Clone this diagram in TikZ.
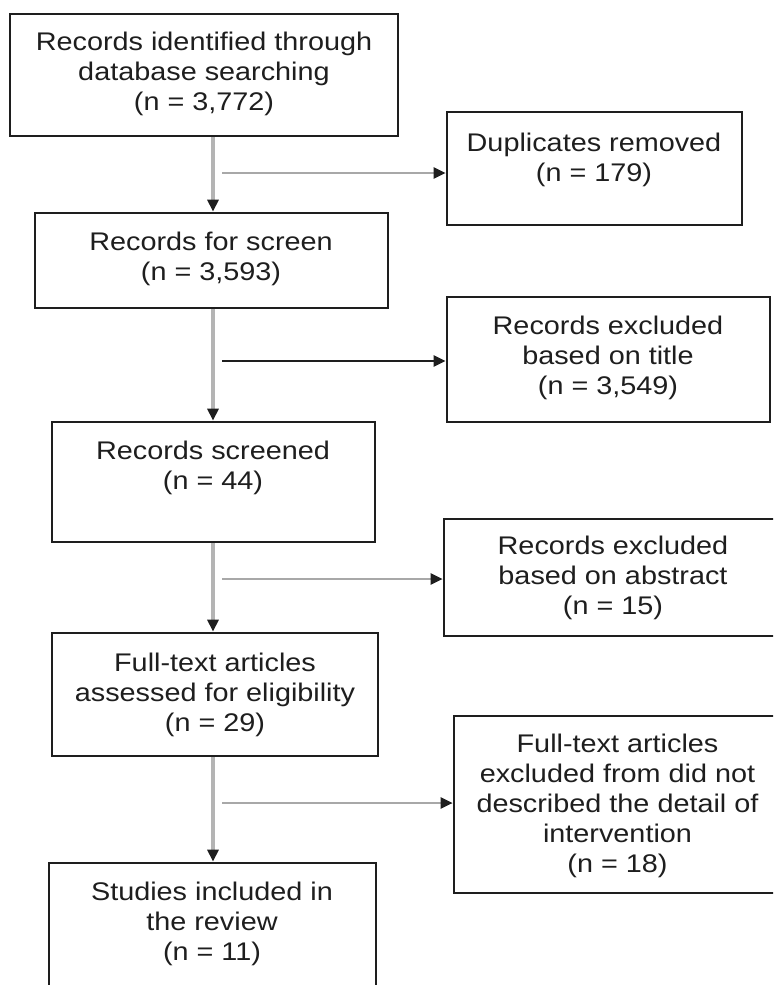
\documentclass[tikz,border=0pt]{standalone}
\usepackage{fontspec}
\setmainfont{Liberation Sans}[FakeStretch=1.13]
\usetikzlibrary{arrows.meta}
\definecolor{ink}{HTML}{1E1E1E}
\definecolor{spinegray}{HTML}{B4B4B4}
\definecolor{branchgray}{HTML}{A8A8A8}
\begin{document}
\begin{tikzpicture}[x=0.5pt, y=-0.5pt,
  box/.style={draw=ink, line width=1.35pt, inner sep=0pt, fill=white},
  lbl/.style={align=center, inner sep=0pt, text=ink,
              font=\fontsize{12.75pt}{15pt}\selectfont},
  tip/.style={-{Triangle[length=6pt, width=5.5pt, color=ink]}},
  spine/.style={draw=spinegray, line width=2pt, tip},
  branch/.style={draw=branchgray, line width=1.1pt, tip},
  branchdark/.style={draw=ink, line width=1.2pt, tip}]

\useasboundingbox (0,0) rectangle (773,985);
\fill[white] (0,0) rectangle (773,985);
\clip (0,0) rectangle (773,985);

% main column of boxes
\node[box, minimum width=194pt,   minimum height=61pt]   (b1) at (204,75)    {};
\node[box, minimum width=176.5pt, minimum height=47.5pt] (b3) at (211.5,260.5) {};
\node[box, minimum width=161.5pt, minimum height=60pt]   (b5) at (213.5,482)  {};
\node[box, minimum width=163pt,   minimum height=61.5pt] (b7) at (215,694.5)  {};
\node[box, minimum width=163.5pt, minimum height=68.5pt] (b9) at (212.5,931.5) {};

% exclusion boxes on the right
\node[box, minimum width=147.5pt, minimum height=56.5pt] (b2) at (594.5,168.5) {};
\node[box, minimum width=161.5pt, minimum height=62.5pt] (b4) at (608.5,359.5) {};
\node[box, minimum width=169pt,   minimum height=58.5pt] (b6) at (613,577.5)   {};
\node[box, minimum width=163.5pt, minimum height=88.5pt] (b8) at (617.5,804.5) {};

% box texts
\node[lbl] (t1) at (204,74)   {Records identified through\\database searching\\(n = 3,772)};
\node[lbl] (t3) at (211,259)  {Records for screen\\(n = 3,593)};
\node[lbl] (t5) at (213,468)  {Records screened\\(n = 44)};
\node[lbl] (t7) at (215,695)  {Full-text articles\\assessed for eligibility\\(n = 29)};
\node[lbl] (t9) at (212,924)  {Studies included in\\the review\\(n = 11)};
\node[lbl] (t2) at (594,160)  {Duplicates removed\\(n = 179)};
\node[lbl] (t4) at (608,358)  {Records excluded\\based on title\\(n = 3,549)};
\node[lbl] (t6) at (613,578)  {Records excluded\\based on abstract\\(n = 15)};
\node[lbl] (t8) at (617.5,806) {Full-text articles\\excluded from did not\\described the detail of\\intervention\\(n = 18)};

% vertical flow
\coordinate (spine) at (213,0);
\draw[spine] (spine |- b1.south) -- (spine |- b3.north);
\draw[spine] (spine |- b3.south) -- (spine |- b5.north);
\draw[spine] (spine |- b5.south) -- (spine |- b7.north);
\draw[spine] (spine |- b7.south) -- (spine |- b9.north);

% branches to the exclusion boxes
\coordinate (s1) at (222,173);
\coordinate (s2) at (222,361);
\coordinate (s3) at (222,579);
\coordinate (s4) at (222,803);
\draw[branch]     (s1) -- (s1 -| b2.west);
\draw[branchdark] (s2) -- (s2 -| b4.west);
\draw[branch]     (s3) -- (s3 -| b6.west);
\draw[branch]     (s4) -- (s4 -| b8.west);
\end{tikzpicture}
\end{document}
